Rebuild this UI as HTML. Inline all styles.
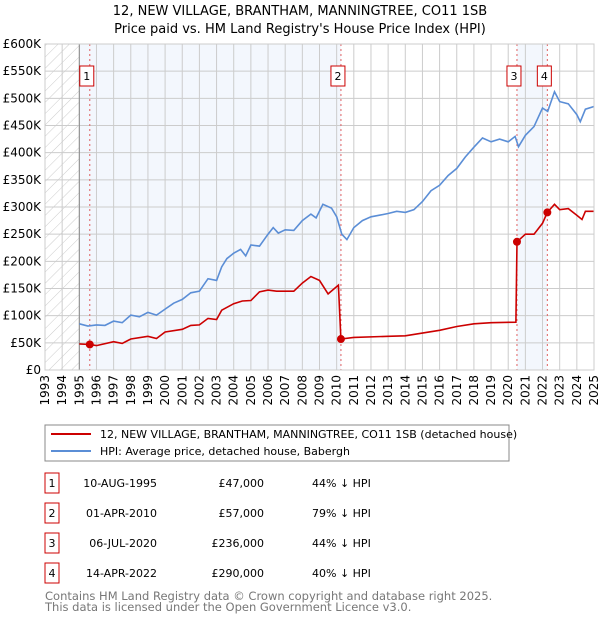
<!DOCTYPE html>
<html><head><meta charset="utf-8"><style>
body{margin:0;background:#fff;font-family:"DejaVu Sans","Liberation Sans",sans-serif;}
svg text{font-family:"DejaVu Sans","Liberation Sans",sans-serif;}
</style></head><body>
<svg id="chart" width="600" height="620" xmlns="http://www.w3.org/2000/svg">
<defs><pattern id="hatch" width="8" height="8" patternUnits="userSpaceOnUse" patternTransform="rotate(45)"><line x1="0" y1="0" x2="0" y2="8" stroke="#ccc" stroke-width="1"/></pattern></defs>
<text x="300" y="15" text-anchor="middle" font-size="13">12, NEW VILLAGE, BRANTHAM, MANNINGTREE, CO11 1SB</text>
<text x="300" y="33" text-anchor="middle" font-size="13">Price paid vs. HM Land Registry's House Price Index (HPI)</text>
<g id="plot"></g>
<g>
<rect x="45" y="425" width="464" height="36" fill="#fff" stroke="#888"/>
<line x1="51" y1="434" x2="91" y2="434" stroke="#cc0000" stroke-width="2"/>
<text x="100" y="438" font-size="11">12, NEW VILLAGE, BRANTHAM, MANNINGTREE, CO11 1SB (detached house)</text>
<line x1="51" y1="451" x2="91" y2="451" stroke="#5b8ed6" stroke-width="2"/>
<text x="100" y="455" font-size="11">HPI: Average price, detached house, Babergh</text>
</g>
<g id="table" font-size="11"></g>
<text x="45" y="600" font-size="11.5" fill="#777">Contains HM Land Registry data © Crown copyright and database right 2025.</text>
<text x="45" y="611" font-size="11.5" fill="#777">This data is licensed under the Open Government Licence v3.0.</text>
</svg>
<script>
const hpiYears=[1995,1995.5,1996,1996.5,1997,1997.5,1998,1998.5,1999,1999.5,2000,2000.5,2001,2001.5,2002,2002.5,2003,2003.3,2003.6,2004,2004.4,2004.7,2005,2005.5,2006,2006.3,2006.6,2007,2007.5,2008,2008.5,2008.8,2009.2,2009.7,2010,2010.3,2010.6,2011,2011.5,2012,2012.5,2013,2013.5,2014,2014.5,2015,2015.5,2016,2016.5,2017,2017.5,2018,2018.5,2019,2019.5,2020,2020.4,2020.6,2021,2021.5,2022,2022.3,2022.7,2023,2023.5,2024,2024.2,2024.5,2025];
const hpiValues=[85,81,83,82,90,87,101,98,106,101,112,123,130,142,145,168,165,190,205,215,222,210,230,228,250,262,252,258,257,275,287,280,305,298,282,250,240,262,275,282,285,288,292,290,295,310,330,340,358,371,392,410,427,420,425,420,430,411,432,448,482,476,512,494,490,470,457,480,485];
const ppYears=[1995,1995.61,1996,1997,1997.5,1998,1999,1999.5,2000,2001,2001.5,2002,2002.5,2003,2003.3,2004,2004.5,2005,2005.5,2006,2006.5,2007,2007.5,2008,2008.5,2009,2009.5,2010.1,2010.25,2011,2013,2014,2015,2016,2017,2018,2019,2020.45,2020.51,2021,2021.5,2022,2022.28,2022.7,2023,2023.5,2024,2024.3,2024.5,2025];
const ppValues=[48,47,45,52,49,57,62,58,70,75,82,83,95,93,110,122,127,128,144,147,145,145,145,160,172,165,140,156,57,60,62,63,68,73,80,85,87,88,236,250,250,270,290,305,295,297,285,277,292,292];
const saleYears=[1995.61,2010.25,2020.51,2022.28];
const saleValues=[47,57,236,290];
const saleLabels=["1","2","3","4"];
const saleDates=["10-AUG-1995","01-APR-2010","06-JUL-2020","14-APR-2022"];
const salePrices=["£47,000","£57,000","£236,000","£290,000"];
const saleDiffs=["44% ↓ HPI","79% ↓ HPI","44% ↓ HPI","40% ↓ HPI"];
const yTicks=[0,50,100,150,200,250,300,350,400,450,500,550,600];
const yTickLabels=["£0","£50K","£100K","£150K","£200K","£250K","£300K","£350K","£400K","£450K","£500K","£550K","£600K"];
const L=45,R=594,T=44,B=370,Y0=1993,Y1=2025;
const X=y=>L+(y-Y0)/(Y1-Y0)*(R-L);
const Y=v=>B-v/600*(B-T);
const NS="http://www.w3.org/2000/svg";
const plot=document.getElementById('plot');
function mk(tag,attrs,parent){const e=document.createElementNS(NS,tag);for(const k in attrs)e.setAttribute(k,attrs[k]);(parent||plot).appendChild(e);return e;}
let e;
e=mk('rect',{x:L,y:T,width:R-L,height:B-T,fill:'#fff'});


e=mk('rect',{x:L,y:T,width:X(1995)-L,height:B-T,fill:'url(#hatch)'});


e=mk('rect',{x:X(1995),y:T,width:X(saleYears[1])-X(1995),height:B-T,fill:'#eef3fc',opacity:0.7});


e=mk('rect',{x:X(saleYears[2]),y:T,width:X(saleYears[3])-X(saleYears[2]),height:B-T,fill:'#eef3fc',opacity:0.7});


for(let yr=Y0;yr<=Y1;yr++){
 e=mk('line',{x1:X(yr),x2:X(yr),y1:T,y2:B,stroke:'#ccc','stroke-width':1});
 
 
 e=mk('text',{transform:`translate(${X(yr)+4},${B+5}) rotate(-90)`,'text-anchor':'end','font-size':12});
 e.textContent=yr;
 
 
}
yTicks.forEach((v,i)=>{
 e=mk('line',{x1:L,x2:R,y1:Y(v),y2:Y(v),stroke:'#ccc','stroke-width':1});
 
 
 e=mk('text',{x:L-4,y:Y(v)+4,'text-anchor':'end','font-size':12});
 e.textContent=yTickLabels[i];
 
 
});
e=mk('line',{x1:X(1995),x2:X(1995),y1:T,y2:B,stroke:'#888'});


saleYears.forEach((yr,i)=>{
 e=mk('line',{x1:X(yr),x2:X(yr),y1:T,y2:B,stroke:'#e06060','stroke-dasharray':'2,3','stroke-width':1});
 
 
 e=mk('rect',{x:X(yr)-10,y:66,width:14,height:20,fill:'#fff',stroke:'#cc0000'});
 
 
 e=mk('text',{x:X(yr)-3,y:80,'text-anchor':'middle','font-size':11});
 e.textContent=saleLabels[i];
 
 
});
const pts=(xs,vs)=>xs.map((x,i)=>X(x).toFixed(1)+','+Y(vs[i]).toFixed(1)).join(' ');
e=mk('polyline',{points:pts(hpiYears,hpiValues),fill:'none',stroke:'#5b8ed6','stroke-width':1.6});


e=mk('polyline',{points:pts(ppYears,ppValues),fill:'none',stroke:'#cc0000','stroke-width':1.6});


saleYears.forEach((yr,i)=>{
 e=mk('circle',{cx:X(yr),cy:Y(saleValues[i]),r:4,fill:'#cc0000'});
 
 
});
e=mk('rect',{x:L,y:T,width:R-L,height:B-T,fill:'none',stroke:'#ccc'});


const tbl=document.getElementById('table');
saleLabels.forEach((lab,i)=>{
 const cy=483+i*30;
 e=mk('rect',{x:45,y:cy-10,width:14,height:20,fill:'#fff',stroke:'#cc0000'},tbl);
 
 
 e=mk('text',{x:52,y:cy+4,'text-anchor':'middle'},tbl);e.textContent=lab;
 
 
 e=mk('text',{x:157,y:cy+4,'text-anchor':'end'},tbl);e.textContent=saleDates[i];
 
 
 e=mk('text',{x:264,y:cy+4,'text-anchor':'end'},tbl);e.textContent=salePrices[i];
 
 
 e=mk('text',{x:312,y:cy+4},tbl);e.textContent=saleDiffs[i];
 
 
});
</script>
</body></html>
